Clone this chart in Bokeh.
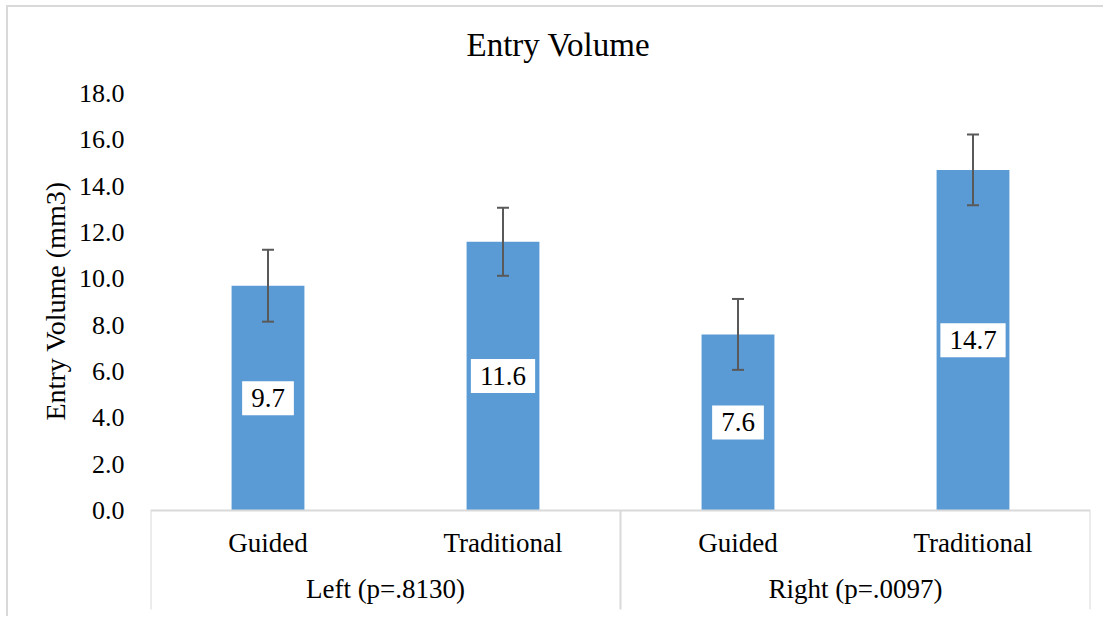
from bokeh.plotting import figure
from bokeh.models import (Range1d, FixedTicker, NumeralTickFormatter, ColumnDataSource, Title)
from bokeh.core.properties import value
from bokeh.embed import file_html
from bokeh.resources import INLINE

# ---- data ----
title_text = "Entry Volume"
y_label = "Entry Volume (mm3)"
groups = ["Left (p=.8130)", "Right (p=.0097)"]
methods = ["Guided", "Traditional"]
means = [9.7, 11.6, 7.6, 14.7]
errors = [1.55, 1.47, 1.53, 1.53]
y_ticks = [0, 2, 4, 6, 8, 10, 12, 14, 16, 18]

FONT = "Times New Roman"
BAR = "#5B9BD5"
GRID = "#d9d9d9"
ERR = "#595959"

n = len(groups) * len(methods)
xs = [i + 0.5 for i in range(n)]
cats = [m for g in groups for m in methods]

src = ColumnDataSource(dict(
    x=xs, top=means, cat=cats,
    upper=[m + e for m, e in zip(means, errors)],
    lower=[m - e for m, e in zip(means, errors)],
    mid=[m / 2 for m in means],
    lab=[f"{m:.1f}" for m in means],
))

p = figure(width=1097, height=611, output_backend="svg", toolbar_location=None,
           x_range=Range1d(0, n), y_range=Range1d(-4.661, 18.99),
           min_border_left=142, min_border_right=15, min_border_top=63, min_border_bottom=0,
           border_fill_color="white", background_fill_color="white")
p.margin = (7, 0, 0, 8)
p.styles = {"box-shadow": "-2px -2px 0 0 #d9d9d9", "outline": "none", "border": "none"}
p.outline_line_color = None
p.grid.visible = False
p.xaxis.visible = False

p.title.text = title_text
p.title.align = "left"
p.title.offset = 316
p.title.standoff = 16
p.title.text_font = FONT
p.title.text_font_size = "33px"
p.title.text_font_style = "normal"
p.title.text_color = "black"

ya = p.yaxis[0]
ya.ticker = FixedTicker(ticks=y_ticks)
ya.formatter = NumeralTickFormatter(format="0.0")
ya.axis_line_color = None
ya.major_tick_line_color = None
ya.minor_tick_line_color = None
ya.major_tick_in = 0
ya.major_tick_out = 0
ya.major_label_standoff = 26
ya.major_label_text_font = FONT
ya.major_label_text_font_size = "26px"
ya.major_label_text_color = "black"

# y axis title as a side title
p.add_layout(Title(text=y_label, align="left", offset=198, standoff=9,
                   text_font=FONT, text_font_size="28px", text_font_style="normal",
                   text_color="black"), "left")

# bars
p.vbar(x="x", top="top", bottom=0, width=0.31, source=src, fill_color=BAR, line_color=None)

# error bars
p.segment(x0="x", y0="lower", x1="x", y1="upper", source=src, line_color=ERR, line_width=2)
p.scatter(x="x", y="upper", source=src, marker="dash", size=12, line_color=ERR, line_width=2)
p.scatter(x="x", y="lower", source=src, marker="dash", size=12, line_color=ERR, line_width=2)

# data labels
p.text(x="x", y="mid", text="lab", source=src, text_font=value(FONT), text_font_size="27px",
       text_align="center", text_baseline="middle", text_color="black",
       background_fill_color="white", padding=(9, 8))

# category axis boxes
bottom = -4.27
seg_x0 = [0] + [g * len(methods) for g in range(len(groups) + 1)]
seg_x1 = [n] + [g * len(methods) for g in range(len(groups) + 1)]
seg_y0 = [0] + [0] * (len(groups) + 1)
seg_y1 = [0] + [bottom] * (len(groups) + 1)
p.segment(x0=seg_x0, y0=seg_y0, x1=seg_x1, y1=seg_y1, line_color=GRID, line_width=2)

# category labels
p.text(x=xs, y=[-1.42] * n, text=cats, text_font=value(FONT), text_font_size="27px",
       text_align="center", text_baseline="alphabetic", text_color="black")
gx = [g * len(methods) + len(methods) / 2 for g in range(len(groups))]
p.text(x=gx, y=[-3.37] * len(groups), text=groups, text_font=value(FONT), text_font_size="27px",
       text_align="center", text_baseline="alphabetic", text_color="black")

open("out.html", "w").write(file_html(p, INLINE))
